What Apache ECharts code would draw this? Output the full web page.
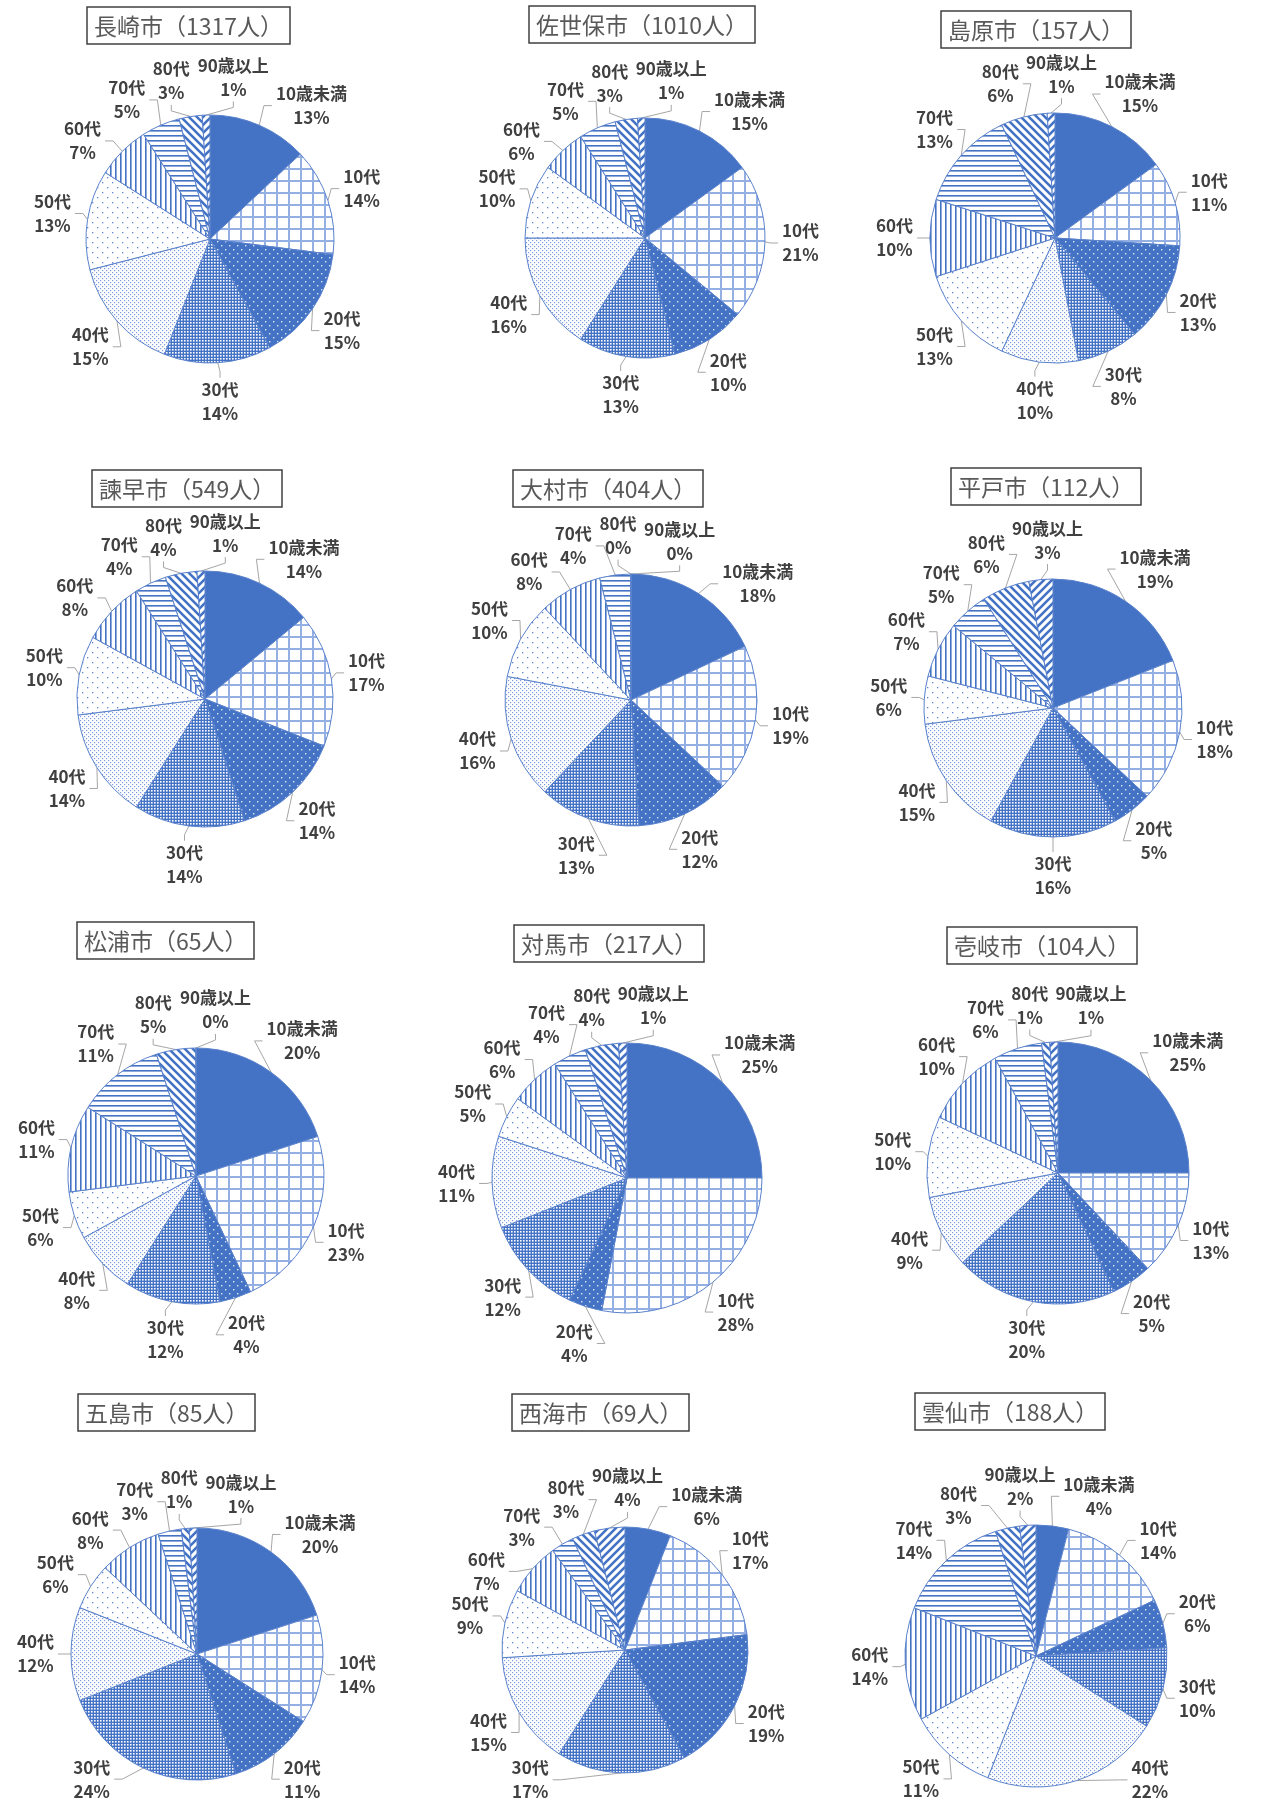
<!DOCTYPE html>
<html>
<head>
<meta charset="utf-8">
<script src="https://cdn.jsdelivr.net/npm/echarts@6/dist/echarts.min.js"></script>
<style>
html,body{margin:0;padding:0;background:#fff;}
#main{width:1283px;height:1800px;}
</style>
</head>
<body>
<div id="main"></div>
<script>
// ---- data (percent shares) ----
const categories = ['10歳未満','10代','20代','30代','40代','50代','60代','70代','80代','90歳以上'];
const cityNames  = ['長崎市','佐世保市','島原市','諫早市','大村市','平戸市','松浦市','対馬市','壱岐市','五島市','西海市','雲仙市'];
const cityCounts = [1317, 1010, 157, 549, 404, 112, 65, 217, 104, 85, 69, 188];
const nagasaki = [13,14,15,14,15,13,7,5,3,1];
const sasebo   = [15,21,10,13,16,10,6,5,3,1];
const shimabara= [15,11,13,8,10,13,10,13,6,1];
const isahaya  = [14,17,14,14,14,10,8,4,4,1];
const omura    = [18,19,12,13,16,10,8,4,0,0];
const hirado   = [19,18,5,16,15,6,7,5,6,3];
const matsuura = [20,23,4,12,8,6,11,11,5,0];
const tsushima = [25,28,4,12,11,5,6,4,4,1];
const iki      = [25,13,5,20,9,10,10,6,1,1];
const goto     = [20,14,11,24,12,6,8,3,1,1];
const saikai   = [6,17,19,17,15,9,7,3,3,4];
const unzen    = [4,14,6,10,22,11,14,14,3,2];
const cityValues = [nagasaki,sasebo,shimabara,isahaya,omura,hirado,matsuura,tsushima,iki,goto,saikai,unzen];

// ---- layout ----
const pieCenters = [[210,239],[645,238],[1055,238],[205,699],[631,700],[1053,708],[196,1176],[627,1178],[1058,1173],[197,1654],[625,1650],[1036,1656]];
const pieRadii   = [124,120,125,128,126,129,128,135,131,126,123,131];
const titlePos   = [[87,7],[529,6],[941,11],[92,470],[513,470],[951,468],[77,922],[514,925],[947,927],[78,1394],[512,1394],[915,1393]];

const BLUE = '#4472C4';
const FONT = '"Noto Sans CJK JP","Noto Sans",sans-serif';
const LFS = 17, LLH = 24, GAP = 15, MAXY = 1800;

function tile(w,h,draw){
  const c=document.createElement('canvas'); c.width=w; c.height=h;
  const g=c.getContext('2d'); draw(g,w,h); return {image:c, repeat:'repeat'};
}
const patterns = [
  BLUE,
  tile(12,12,(g,w,h)=>{g.fillStyle='#fff';g.fillRect(0,0,w,h);g.fillStyle='#93afe3';g.fillRect(0,0,w,2);g.fillRect(0,0,2,h);}),
  tile(8,8,(g,w,h)=>{g.fillStyle=BLUE;g.fillRect(0,0,w,h);g.fillStyle='#dfe7f6';g.fillRect(1,1,1.4,1.4);g.fillRect(5,5,1.4,1.4);}),
  tile(3,3,(g,w,h)=>{g.fillStyle=BLUE;g.fillRect(0,0,w,h);g.fillStyle='#fff';g.fillRect(1,1,1.6,1.6);}),
  tile(4,4,(g,w,h)=>{g.fillStyle='#fff';g.fillRect(0,0,w,h);g.fillStyle='#7d9ddb';g.fillRect(0,0,1.2,1.2);g.fillRect(2,2,1.2,1.2);}),
  tile(10,10,(g,w,h)=>{g.fillStyle='#fff';g.fillRect(0,0,w,h);g.fillStyle='#5d84cf';g.fillRect(2,2,1.3,1.3);g.fillRect(7,7,1.3,1.3);}),
  tile(5,5,(g,w,h)=>{g.fillStyle='#fff';g.fillRect(0,0,w,h);g.fillStyle=BLUE;g.fillRect(0,0,1.6,h);}),
  tile(5,5,(g,w,h)=>{g.fillStyle='#fff';g.fillRect(0,0,w,h);g.fillStyle=BLUE;g.fillRect(0,0,w,1.6);}),
  tile(8,8,(g,w,h)=>{g.fillStyle='#fff';g.fillRect(0,0,w,h);g.strokeStyle=BLUE;g.lineWidth=2.6;g.beginPath();
      g.moveTo(-2,-2);g.lineTo(w+2,h+2);g.moveTo(-2,h-2);g.lineTo(2,h+2);g.moveTo(w-2,-2);g.lineTo(w+2,2);g.stroke();}),
  tile(8,8,(g,w,h)=>{g.fillStyle='#fff';g.fillRect(0,0,w,h);g.strokeStyle=BLUE;g.lineWidth=2.6;g.beginPath();
      g.moveTo(-2,h+2);g.lineTo(w+2,-2);g.moveTo(-2,2);g.lineTo(2,-2);g.moveTo(w-2,h+2);g.lineTo(w+2,h-2);g.stroke();})
];

// text measuring for label placement
const mctx = document.createElement('canvas').getContext('2d');
mctx.font = 'bold ' + LFS + 'px ' + FONT;
function tw(s){ return mctx.measureText(s).width; }
function norm(d){ while (d > Math.PI) d -= 2*Math.PI; while (d <= -Math.PI) d += 2*Math.PI; return d; }

// compute label boxes around each pie (angles from the data, then spread to avoid overlap)
function computeLabels(vals, C, r){
  const total = vals.reduce((a,b)=>a+b,0);
  let cum = 0;
  const L = vals.map((v,k)=>{
    const th = 2*Math.PI*(cum + v/2)/total; cum += v;
    const w = Math.max(tw(categories[k]), tw(v+'%')) + 4, h = 2*LLH;
    return {th0: th, th: th, w, h};
  });
  function place(o){
    const dx = Math.sin(o.th), dy = -Math.cos(o.th);
    o.cx = C[0] + dx*(r+GAP) + dx*o.w/2;
    o.cy = C[1] + dy*(r+GAP) + dy*o.h/2;
  }
  const tooLow = o => o.cy + o.h/2 - 4 > MAXY;
  L.forEach(place);
  // keep labels inside the bottom of the canvas: slide them round the pie
  L.forEach(o=>{
    let guard = 0;
    while (tooLow(o) && guard++ < 400){ o.th += (o.th < Math.PI ? -0.01 : 0.01); place(o); }
  });
  const n = L.length, step = 0.004;
  for (let it=0; it<900; it++){
    let moved = false;
    for (let a=0;a<n;a++) for (let b=a+1;b<n;b++){
      const A=L[a], B=L[b];
      const ox = (A.w+B.w)/2 + 3 - Math.abs(A.cx-B.cx);
      const oy = (A.h+B.h)/2 - 4 - Math.abs(A.cy-B.cy);
      if (ox>0 && oy>0){
        // keep the original circular order of the slices
        const d0 = norm(B.th0 - A.th0);
        const sA = d0 >= 0 ? -step : step;
        [[A,sA],[B,-sA]].forEach(([o,s])=>{
          const old = o.th; o.th += s; place(o);
          if (tooLow(o)){ o.th = old; place(o); }
        });
        moved = true;
      }
    }
    if (!moved) break;
  }
  L.forEach(o=>{
    const ex = C[0] + Math.sin(o.th0)*r, ey = C[1] - Math.cos(o.th0)*r;
    const side = Math.sin(o.th);
    let ax, ay, bx, by;
    if (Math.abs(side) > 0.3){
      const s = side > 0 ? 1 : -1;
      ax = o.cx - s*(o.w/2 + 2); ay = o.cy;
      bx = ax - s*8; by = ay;
    } else {
      const s = -Math.cos(o.th) > 0 ? 1 : -1;
      ax = o.cx; ay = o.cy - s*(o.h/2);
      bx = ax; by = ay - s*6;
    }
    o.line = [[ex,ey],[bx,by],[ax,ay]];
  });
  return L;
}
const labelLayouts = cityValues.map((v,i)=>computeLabels(v, pieCenters[i], pieRadii[i]));

const titles = [], series = [];
cityNames.forEach((nm,i)=>{
  titles.push({
    text: nm + '（' + cityCounts[i] + '人）',
    left: titlePos[i][0], top: titlePos[i][1],
    padding: [4,7,3,7],
    borderColor:'#404040', borderWidth:1.5, backgroundColor:'#fff',
    textStyle:{fontFamily:FONT, fontSize:23, fontWeight:'normal', color:'#595959', lineHeight:30}
  });
  series.push({
    type:'pie', name:nm,
    center: pieCenters[i], radius: pieRadii[i],
    startAngle: 90, clockwise: true,
    avoidLabelOverlap: false,
    animation:false,
    itemStyle:{borderColor:'#5a82cc', borderWidth:1},
    label:{
      show:true, position:'outside',
      formatter: p => '{a|' + p.name + '}\n{a|' + p.value + '%}',
      rich:{a:{align:'center', fontFamily:FONT, fontSize:LFS, fontWeight:'bold', color:'#404040', lineHeight:LLH}}
    },
    labelLine:{show:true, length:10, length2:10, lineStyle:{color:'#a6a6a6', width:1}},
    labelLayout: function(p){
      const o = labelLayouts[i][p.dataIndex];
      return {x:o.cx, y:o.cy, align:'center', verticalAlign:'middle', labelLinePoints:o.line};
    },
    emphasis:{disabled:true},
    data: categories.map((c,k)=>({name:c, value:cityValues[i][k], itemStyle:{color:patterns[k]}}))
  });
});

const chart = echarts.init(document.getElementById('main'), null, {renderer:'canvas'});
chart.setOption({backgroundColor:'#fff', title:titles, series:series});
</script>
</body>
</html>
